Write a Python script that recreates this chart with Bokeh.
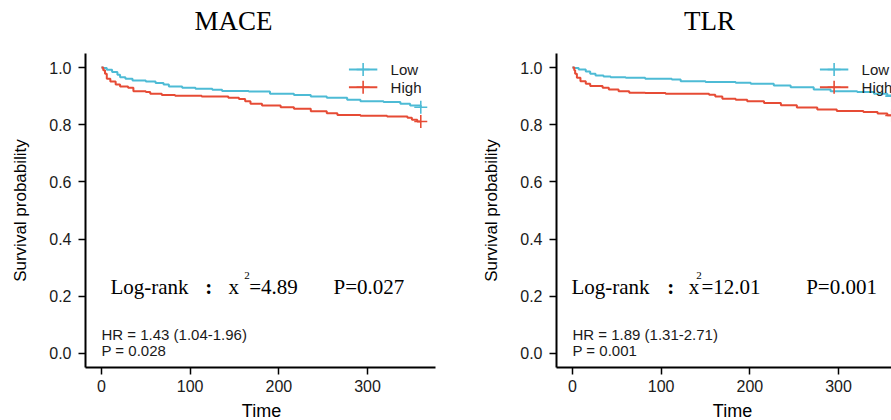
from bokeh.plotting import figure
from bokeh.layouts import row, column
from bokeh.models import Range1d, FixedTicker, PrintfTickFormatter
from bokeh.core.properties import value
from bokeh.embed import file_html
from bokeh.resources import INLINE

# ---------------- data ----------------
titles = ["MACE", "TLR"]
groups = ["Low", "High"]
colors = {"Low": "#4DBBD5", "High": "#E64B35"}
x_ticks = [0, 100, 200, 300]
y_ticks = [0.0, 0.2, 0.4, 0.6, 0.8, 1.0]
x_label = "Time"
y_label = "Survival probability"

# MACE step curves (time of step, survival after step)
mace_low_t = [0, 2, 6, 12, 18, 21, 27, 35, 50, 61, 70, 76, 91, 106, 125, 136, 166, 190, 217, 236, 254, 277, 292, 318, 337, 348, 360]
mace_low_s = [1.0, 0.998, 0.992, 0.984, 0.975, 0.966, 0.961, 0.955, 0.951, 0.946, 0.941, 0.934, 0.929, 0.926, 0.922, 0.918, 0.916, 0.908, 0.904, 0.899, 0.894, 0.887, 0.882, 0.879, 0.873, 0.867, 0.861]
mace_high_t = [0, 2, 4, 6, 10, 16, 21, 30, 36, 50, 55, 68, 83, 113, 143, 155, 162, 168, 181, 202, 217, 236, 254, 266, 292, 322, 345, 350, 356, 360]
mace_high_s = [1.0, 0.99, 0.978, 0.961, 0.951, 0.941, 0.934, 0.929, 0.917, 0.914, 0.908, 0.904, 0.901, 0.899, 0.894, 0.890, 0.882, 0.873, 0.867, 0.861, 0.856, 0.847, 0.840, 0.834, 0.831, 0.829, 0.824, 0.817, 0.811, 0.811]

# TLR step curves
tlr_low_t = [0, 2, 7, 15, 20, 26, 35, 43, 60, 82, 112, 122, 150, 184, 201, 227, 246, 272, 291, 321, 340, 355, 360]
tlr_low_s = [1.0, 0.998, 0.993, 0.986, 0.978, 0.972, 0.969, 0.966, 0.964, 0.961, 0.958, 0.952, 0.949, 0.947, 0.943, 0.937, 0.931, 0.923, 0.917, 0.914, 0.908, 0.902, 0.900]
tlr_high_t = [0, 2, 3, 5, 9, 15, 20, 34, 41, 52, 64, 82, 105, 154, 161, 169, 184, 197, 216, 235, 253, 276, 298, 328, 344, 355, 360]
tlr_high_s = [1.0, 0.99, 0.978, 0.964, 0.952, 0.943, 0.935, 0.929, 0.923, 0.917, 0.912, 0.911, 0.908, 0.905, 0.899, 0.891, 0.887, 0.882, 0.876, 0.868, 0.860, 0.853, 0.848, 0.844, 0.839, 0.833, 0.832]

chi_sq = ["=4.89", "=12.01"]
logrank_p = ["P=0.027", "P=0.001"]
hr_text = ["HR = 1.43 (1.04-1.96)", "HR = 1.89 (1.31-2.71)"]
hr_p = ["P = 0.028", "P = 0.001"]

SANS = "Liberation Sans"
SERIF = "Liberation Serif"
TXT = "#1a1a1a"

TITLE_H = 45
XLAB_H = 20
MAIN_H = 420 - TITLE_H - XLAB_H


def text_fig(width, height, xr, border_right, cx, cy, txt, font, size):
    f = figure(width=width, height=height, output_backend="svg", toolbar_location=None,
               x_range=xr, y_range=Range1d(0, height),
               x_axis_type=None, y_axis_type=None,
               min_border_left=85, min_border_right=border_right,
               min_border_top=0, min_border_bottom=0)
    f.outline_line_color = None
    f.grid.visible = False
    f.text([cx], [cy], text=[txt], text_font=value(font), text_font_size=size,
           text_align="center", text_baseline="middle", text_color="black")
    return f


def panel(i, lt, ls, ht, hs, width, xr, border_right, xs):
    p = figure(width=width, height=MAIN_H, output_backend="svg", toolbar_location=None,
               x_range=xr, y_range=Range1d(-0.049, 1.049),
               min_border_left=85, min_border_right=border_right,
               min_border_top=53 - TITLE_H, min_border_bottom=MAIN_H - (53 - TITLE_H) - 314)
    p.outline_line_color = None
    p.grid.visible = False

    for ax in (p.xaxis[0], p.yaxis[0]):
        ax.axis_line_width = 2
        ax.axis_line_color = "black"
        ax.major_tick_line_width = 1.5
        ax.major_tick_line_color = "black"
        ax.major_tick_out = 7
        ax.major_tick_in = 0
        ax.minor_tick_line_color = None
        ax.major_label_text_font = SANS
        ax.major_label_text_font_size = "16px"
        ax.major_label_text_color = TXT
        ax.axis_label_text_font = SANS
        ax.axis_label_text_font_style = "normal"
        ax.axis_label_text_color = "black"
    p.yaxis.axis_label_text_font_size = "17px"
    p.xaxis.ticker = FixedTicker(ticks=x_ticks)
    p.yaxis.ticker = FixedTicker(ticks=y_ticks)
    p.yaxis.formatter = PrintfTickFormatter(format="%.1f")
    p.yaxis.axis_label = y_label
    p.xaxis.major_label_standoff = 5
    p.yaxis.major_label_standoff = 7
    p.yaxis.axis_label_standoff = 16

    for g, t, s in (("Low", lt, ls), ("High", ht, hs)):
        p.step(t, s, mode="after", line_color=colors[g], line_width=2)
        p.scatter([t[-1]], [s[-1]], marker="cross", size=13, line_color=colors[g], line_width=1.6)

    # legend
    leg_y = [0.993, 0.931]
    for g, yy in zip(groups, leg_y):
        p.segment(x0=[279], y0=[yy], x1=[311], y1=[yy], line_color=colors[g], line_width=2)
        p.scatter([295], [yy], marker="cross", size=13, line_color=colors[g], line_width=1.6)
        p.text([326], [yy], text=[g], text_font=value(SANS), text_font_size="15px",
               text_baseline="middle", text_color=TXT)

    # log-rank annotation
    def t(x, y, s, size, style="normal"):
        p.text([x], [y], text=[s], text_font=value(SERIF), text_font_size=size,
               text_font_style=style, text_baseline="alphabetic", text_color="black")

    t(xs[0], 0.231, "Log-rank", "21px")
    t(xs[1], 0.231, ":", "21px", "bold")
    t(xs[2], 0.231, "x", "21px")
    t(xs[3], 0.272, "2", "11px")
    t(xs[4], 0.231, chi_sq[i], "21px")
    t(xs[5], 0.231, logrank_p[i], "21px")

    p.text([0], [0.068], text=[hr_text[i]], text_font=value(SANS), text_font_size="15px",
           text_baseline="alphabetic", text_color=TXT)
    p.text([0], [0.009], text=[hr_p[i]], text_font=value(SANS), text_font_size="15px",
           text_baseline="alphabetic", text_color=TXT)
    return p


xr1 = Range1d(-18, 376.6)
xr2 = Range1d(-18, 359.7)

p1 = panel(0, mace_low_t, mace_low_s, mace_high_t, mace_high_s, 471, xr1, 36,
           [10.1, 117, 143.2, 161, 166.5, 261.6])
p2 = panel(1, tlr_low_t, tlr_low_s, tlr_high_t, tlr_high_s, 420, xr2, 0,
           [-1.1, 107, 131, 139.5, 145.5, 263.5])
t1 = text_fig(471, TITLE_H, xr1, 36, 148.8, 25, titles[0], SERIF, "27px")
t2 = text_fig(420, TITLE_H, xr2, 0, 154.5, 25, titles[1], SERIF, "27px")
b1 = text_fig(471, XLAB_H, xr1, 36, 180.4, 10, x_label, SANS, "18px")
b2 = text_fig(420, XLAB_H, xr2, 0, 180.4, 10, x_label, SANS, "18px")

layout = row(column(t1, p1, b1), column(t2, p2, b2))
open("out.html", "w").write(file_html(layout, INLINE))
